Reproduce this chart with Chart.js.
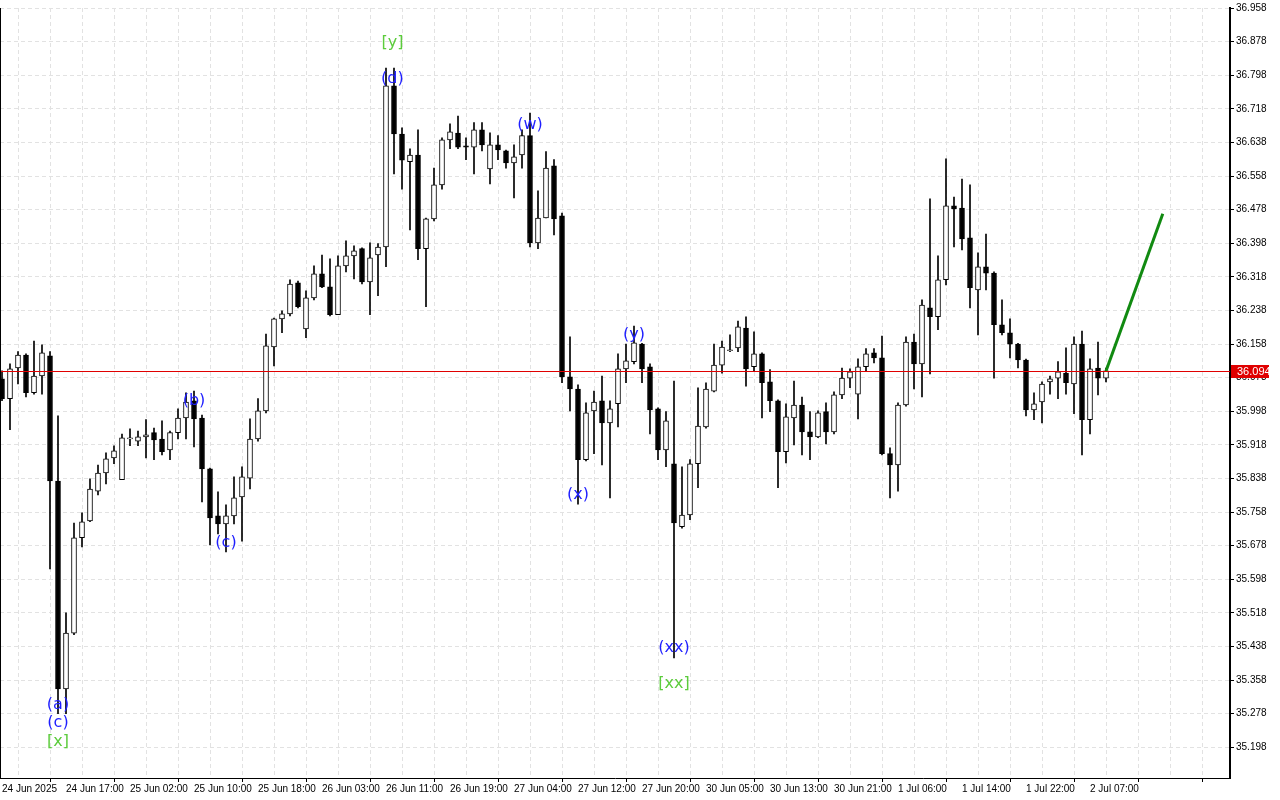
<!DOCTYPE html>
<html lang="en">
<head>
<meta charset="UTF-8">
<title>Candles</title>
<script src="https://cdn.jsdelivr.net/npm/chart.js"></script>
<style>
  html, body { margin: 0; padding: 0; background: #fff; }
  #wrap { width: 1280px; height: 800px; }
</style>
</head>
<body>
<div id="wrap"><canvas id="chart"></canvas></div>
<script>
// OHLC, one entry per hourly bar
const opens = [36.075,36.028,36.101,36.132,36.042,36.082,36.130,35.832,35.337,35.470,35.697,35.737,35.808,35.851,35.887,35.835,35.932,35.927,35.937,35.947,
  35.932,35.906,35.947,35.982,36.023,35.982,35.861,35.749,35.730,35.749,35.794,35.839,35.932,35.999,36.151,36.218,36.230,36.304,36.194,36.268,
  36.325,36.294,36.228,36.344,36.368,36.385,36.306,36.370,36.389,36.773,36.658,36.592,36.608,36.385,36.456,36.537,36.644,36.660,36.630,36.627,
  36.668,36.575,36.632,36.618,36.589,36.608,36.654,36.399,36.458,36.582,36.463,36.080,36.051,35.883,35.999,36.023,35.970,36.016,36.099,36.116,
  36.158,36.104,36.004,35.906,35.873,35.723,35.751,35.873,35.961,36.046,36.108,36.142,36.149,36.196,36.104,36.135,36.068,36.023,35.902,35.982,
  36.013,35.949,35.937,35.997,35.949,36.037,36.077,36.039,36.104,36.137,36.125,35.897,35.870,36.013,36.163,36.111,36.244,36.223,36.311,36.487,
  36.482,36.411,36.287,36.342,36.327,36.204,36.185,36.158,36.120,36.001,36.020,36.068,36.077,36.089,36.063,36.158,35.978,36.101,36.077];
const highs = [36.094,36.111,36.140,36.135,36.165,36.156,36.140,35.987,35.518,35.732,35.756,35.837,35.870,35.899,35.916,35.944,35.956,35.951,35.978,35.958,
  35.975,35.951,36.004,36.042,36.046,35.989,35.863,35.806,35.775,35.842,35.866,35.980,36.028,36.182,36.220,36.237,36.311,36.308,36.285,36.344,
  36.370,36.361,36.368,36.404,36.392,36.387,36.399,36.397,36.815,36.815,36.673,36.623,36.668,36.458,36.577,36.649,36.682,36.701,36.649,36.685,
  36.685,36.661,36.654,36.620,36.632,36.668,36.708,36.523,36.616,36.597,36.470,36.175,36.061,36.018,36.046,36.082,36.023,36.135,36.158,36.201,
  36.160,36.111,36.006,35.997,36.070,35.866,35.883,36.054,36.066,36.158,36.165,36.180,36.213,36.223,36.187,36.137,36.097,36.025,36.016,36.070,
  36.032,35.997,35.999,36.018,36.044,36.101,36.099,36.123,36.147,36.147,36.177,35.911,36.018,36.175,36.182,36.263,36.504,36.368,36.599,36.508,
  36.551,36.537,36.375,36.420,36.330,36.263,36.218,36.160,36.122,36.042,36.068,36.082,36.116,36.149,36.175,36.189,36.123,36.163,36.101];
const lows = [36.023,35.954,36.063,36.032,36.039,36.039,35.623,35.278,35.278,35.466,35.675,35.735,35.799,35.825,35.873,35.835,35.916,35.916,35.887,35.883,
  35.894,35.883,35.932,35.932,35.913,35.782,35.680,35.706,35.663,35.730,35.689,35.813,35.927,35.994,36.106,36.185,36.225,36.244,36.173,36.263,
  36.292,36.225,36.228,36.330,36.313,36.301,36.228,36.273,36.342,36.563,36.527,36.430,36.359,36.247,36.451,36.527,36.623,36.623,36.597,36.563,
  36.618,36.539,36.597,36.577,36.506,36.577,36.389,36.385,36.458,36.418,36.066,35.999,35.777,35.880,35.897,35.870,35.792,35.961,36.066,36.111,
  36.066,35.944,35.883,35.866,35.411,35.720,35.740,35.816,35.958,36.044,36.089,36.140,36.140,36.058,36.094,35.982,35.997,35.816,35.875,35.918,
  35.894,35.883,35.935,35.920,35.944,36.028,36.054,35.980,36.092,36.113,35.894,35.792,35.808,36.010,36.051,36.032,36.087,36.192,36.299,36.389,
  36.382,36.244,36.180,36.287,36.077,36.180,36.125,36.101,35.987,35.978,35.970,36.039,36.028,36.039,35.992,35.894,35.944,36.037,36.068];
const closes = [36.028,36.099,36.132,36.042,36.082,36.137,35.832,35.337,35.470,35.697,35.735,35.813,35.851,35.885,35.904,35.935,35.935,35.937,35.942,35.930,
  35.902,35.947,35.982,36.020,35.980,35.861,35.744,35.730,35.749,35.792,35.842,35.932,35.999,36.154,36.218,36.230,36.301,36.247,36.268,36.325,
  36.294,36.228,36.344,36.368,36.380,36.306,36.363,36.389,36.773,36.658,36.596,36.608,36.385,36.456,36.537,36.644,36.663,36.627,36.627,36.668,
  36.632,36.632,36.620,36.589,36.604,36.654,36.399,36.458,36.577,36.456,36.080,36.051,35.883,35.994,36.020,35.970,36.004,36.099,36.118,36.161,
  36.099,36.001,35.906,35.975,35.732,35.751,35.873,35.963,36.051,36.108,36.151,36.144,36.199,36.099,36.135,36.066,36.023,35.902,35.985,36.013,
  35.949,35.937,35.994,35.949,36.037,36.077,36.092,36.104,36.135,36.125,35.897,35.870,36.013,36.163,36.111,36.251,36.223,36.311,36.487,36.480,
  36.408,36.292,36.342,36.327,36.204,36.185,36.158,36.120,36.001,36.016,36.063,36.075,36.092,36.066,36.158,35.978,36.099,36.077,36.094];

const timeLabels = ["24 Jun 2025","24 Jun 17:00","25 Jun 02:00","25 Jun 10:00","25 Jun 18:00","26 Jun 03:00",
  "26 Jun 11:00","26 Jun 19:00","27 Jun 04:00","27 Jun 12:00","27 Jun 20:00","30 Jun 05:00","30 Jun 13:00",
  "30 Jun 21:00","1 Jul 06:00","1 Jul 14:00","1 Jul 22:00","2 Jul 07:00"];
const priceTicks = [36.958,36.878,36.798,36.718,36.638,36.558,36.478,36.398,36.318,36.238,36.158,36.078,
  35.998,35.918,35.838,35.758,35.678,35.598,35.518,35.438,35.358,35.278,35.198];
const lastPrice = 36.094;

// wave marks: [bar index, price, text, kind]
const waveMarks = [
  [7, 35.300, "(a)", "minor"], [7, 35.257, "(c)", "minor"], [7, 35.212, "[x]", "major"],
  [24, 36.023, "(b)", "minor"], [28, 35.685, "(c)", "minor"],
  [48.8, 36.790, "(d)", "minor"], [48.8, 36.875, "[y]", "major"],
  [66, 36.680, "(w)", "minor"], [72, 35.800, "(x)", "minor"], [79, 36.180, "(y)", "minor"],
  [84, 35.436, "(xx)", "minor"], [84, 35.348, "[xx]", "major"]
];
// projection line
const projX = [138, 145.1];
const projY = [36.094, 36.468];

const idx = opens.map((_, i) => i);
const isDown = i => closes[i] < opens[i];
const axisFont = { family: 'Liberation Sans', size: 10 };

const marksPlugin = {
  id: 'marks',
  afterDatasetsDraw(chart) {
    const { ctx, scales: { x, y }, chartArea } = chart;
    ctx.save();
    // last price line
    const py = Math.round(y.getPixelForValue(lastPrice)) + 0.5;
    ctx.strokeStyle = '#e00000';
    ctx.lineWidth = 1;
    ctx.beginPath();
    ctx.moveTo(chartArea.left, py);
    ctx.lineTo(chartArea.right, py);
    ctx.stroke();
    // wave labels
    ctx.font = '16px "DejaVu Sans"';
    ctx.textAlign = 'center';
    ctx.textBaseline = 'middle';
    waveMarks.forEach(m => {
      ctx.fillStyle = m[3] === 'major' ? '#5ccc3c' : '#1f1fff';
      ctx.fillText(m[2], x.getPixelForValue(m[0]), y.getPixelForValue(m[1]));
    });
    ctx.restore();
  },
  afterDraw(chart) {
    const { ctx, scales: { y }, chartArea } = chart;
    ctx.save();
    const py = Math.round(y.getPixelForValue(lastPrice));
    ctx.fillStyle = '#e00000';
    ctx.fillRect(chartArea.right + 1, py - 6, 38, 13);
    ctx.fillStyle = '#fff';
    ctx.font = '11px "Liberation Sans"';
    ctx.textBaseline = 'middle';
    ctx.fillText(lastPrice.toFixed(3), chartArea.right + 7, py + 1);
    // frame
    ctx.strokeStyle = '#000';
    ctx.lineWidth = 1;
    ctx.beginPath();
    ctx.moveTo(chartArea.left + 0.5, chartArea.top);
    ctx.lineTo(chartArea.left + 0.5, chartArea.bottom);
    ctx.stroke();
    ctx.restore();
  }
};

new Chart(document.getElementById('chart'), {
  type: 'bar',
  data: {
    datasets: [
      {
        label: 'wicks',
        data: idx.map(i => ({ x: i, y: [lows[i], highs[i]] })),
        backgroundColor: '#000',
        borderWidth: 0,
        barThickness: 1,
        grouped: false,
        order: 2
      },
      {
        label: 'bodies',
        data: idx.map(i => ({ x: i, y: [opens[i], closes[i]] })),
        backgroundColor: ctx => isDown(ctx.dataIndex) ? '#000' : '#fff',
        borderColor: '#000',
        borderWidth: 1,
        borderSkipped: false,
        barThickness: 5,
        minBarLength: 1,
        grouped: false,
        order: 1
      },
      {
        type: 'line',
        label: 'projection',
        data: projX.map((v, i) => ({ x: v, y: projY[i] })),
        borderColor: '#118a11',
        borderWidth: 3,
        pointRadius: 0,
        order: 0
      }
    ]
  },
  options: {
    responsive: true,
    maintainAspectRatio: false,
    animation: false,
    layout: { padding: 0 },
    plugins: { legend: { display: false }, tooltip: { enabled: false } },
    scales: {
      x: {
        type: 'linear',
        offset: false,
        min: -0.25,
        max: 153.5,
        afterBuildTicks: s => {
          const t = [];
          for (let v = 0; v <= 152; v += 4) t.push({ value: v });
          s.ticks = t;
        },
        afterFit: s => { s.height = 22; },
        ticks: {
          autoSkip: false,
          maxRotation: 0,
          align: 'start',
          padding: 1,
          color: '#000',
          font: axisFont,
          callback: v => (v % 8 === 0 && timeLabels[v / 8]) ? timeLabels[v / 8] : ''
        },
        grid: {
          color: '#e2e2e2',
          tickBorderDash: [],
          tickColor: ctx => (ctx.tick && ctx.tick.value % 8 === 0) ? '#000' : 'rgba(0,0,0,0)',
          tickLength: 4
        },
        border: { color: '#000', width: 1, dash: [4, 3] }
      },
      y: {
        position: 'right',
        min: 35.125,
        max: 36.958,
        afterBuildTicks: s => { s.ticks = priceTicks.map(v => ({ value: v })); },
        afterFit: s => { s.width = 50; },
        ticks: {
          padding: 2,
          color: '#000',
          font: axisFont,
          callback: v => v.toFixed(3)
        },
        grid: {
          color: '#e2e2e2',
          tickColor: '#000',
          tickLength: 4,
          tickBorderDash: []
        },
        border: { color: '#000', width: 2, dash: [4, 3] }
      }
    }
  },
  plugins: [marksPlugin]
});
</script>
</body>
</html>
